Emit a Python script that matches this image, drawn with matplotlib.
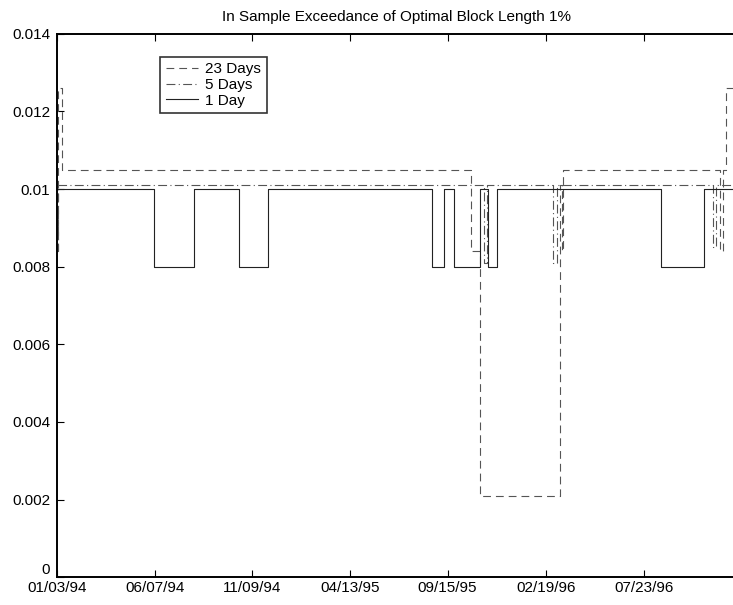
# exceedance do block length otimo - recriacao do grafico
import matplotlib
matplotlib.use('Agg')
import matplotlib.pyplot as plt
import matplotlib.dates as mdates
from matplotlib.ticker import FuncFormatter
import numpy as np

plt.rcParams['font.family'] = ['Liberation Sans', 'DejaVu Sans']

# pontos de mudanca de cada serie (degraus)
datas_23 = ['1994-01-03', '1994-01-04', '1994-01-11', '1995-10-22', '1995-11-05',
            '1996-03-11', '1996-03-14', '1996-03-17', '1996-11-20', '1996-11-26',
            '1996-12-01']
valores_23 = [0.0084, 0.0126, 0.0105, 0.0084, 0.0021,
              0.0101, 0.0084, 0.0105, 0.0084, 0.0105,
              0.0126]

datas_5 = ['1994-01-03', '1994-01-04', '1995-11-12', '1995-11-17', '1996-03-01',
           '1996-03-07', '1996-11-10', '1996-11-14']
valores_5 = [0.0084, 0.0101, 0.0081, 0.0101, 0.0081,
             0.0101, 0.0085, 0.0101]

datas_1 = ['1994-01-03', '1994-06-06', '1994-08-08', '1994-10-19', '1994-12-04',
           '1995-08-21', '1995-09-10', '1995-09-25', '1995-11-06', '1995-11-19',
           '1995-12-03', '1996-08-19', '1996-10-27']
valores_1 = [0.010, 0.008, 0.010, 0.008, 0.010,
             0.008, 0.010, 0.008, 0.010, 0.008,
             0.010, 0.008, 0.010]

data_fim = '1996-12-16'

datas_ticks = ['1994-01-03', '1994-06-07', '1994-11-09', '1995-04-13',
               '1995-09-15', '1996-02-19', '1996-07-23']
y_ticks = [0, 0.002, 0.004, 0.006, 0.008, 0.010, 0.012, 0.014]


def serie_degrau(datas, valores):
    x = [np.datetime64(d) for d in datas] + [np.datetime64(data_fim)]
    y = list(valores) + [valores[-1]]
    return mdates.date2num(x), y


fig = plt.figure(figsize=(7.33, 6.05), dpi=100)
# o eixo passa um pouco da borda direita, como no original
ax = fig.add_axes([0.078, 0.046, 0.926, 0.898])

x23, y23 = serie_degrau(datas_23, valores_23)
x5, y5 = serie_degrau(datas_5, valores_5)
x1, y1 = serie_degrau(datas_1, valores_1)

ax.plot(x23, y23, drawstyle='steps-post', color='#555555', lw=0.8,
        dashes=(7, 4.5), label='23 Days')
ax.plot(x5, y5, drawstyle='steps-post', color='#555555', lw=0.8,
        dashes=(8, 3, 1, 3), label='5 Days')
ax.plot(x1, y1, drawstyle='steps-post', color='#222222', lw=0.8,
        label='1 Day')

ax.set_xlim(mdates.date2num(np.datetime64(datas_ticks[0])),
            mdates.date2num(np.datetime64(data_fim)))
ax.set_ylim(0, 0.014)

ax.set_xticks(mdates.date2num([np.datetime64(d) for d in datas_ticks]))
ax.set_xticklabels([d[5:7] + '/' + d[8:10] + '/' + d[2:4] for d in datas_ticks])
ax.set_yticks(y_ticks)
ax.yaxis.set_major_formatter(FuncFormatter(lambda v, p: '%g' % v))

ax.tick_params(direction='in', length=5, width=0.8, labelsize=11,
               top=True, right=False)
ax.tick_params(axis='x', pad=3)
ax.tick_params(axis='y', pad=5)
ax.spines['right'].set_visible(False)
for s in ax.spines.values():
    s.set_linewidth(1.4)

# o "0" do eixo y fica um pouco acima, sem bater nas datas
ax.yaxis.get_major_ticks()[0].label1.set_verticalalignment('bottom')

ax.set_title('In Sample Exceedance of Optimal Block Length 1%', fontsize=11, pad=9)

leg = ax.legend(loc='upper left', bbox_to_anchor=(0.152, 0.958), fontsize=11,
                frameon=True, fancybox=False, borderpad=0.35, labelspacing=0.12,
                handlelength=2.1, handletextpad=0.5, borderaxespad=0)
leg.get_frame().set_edgecolor('black')
leg.get_frame().set_linewidth(1.2)

fig.savefig('out.png', dpi=100)
